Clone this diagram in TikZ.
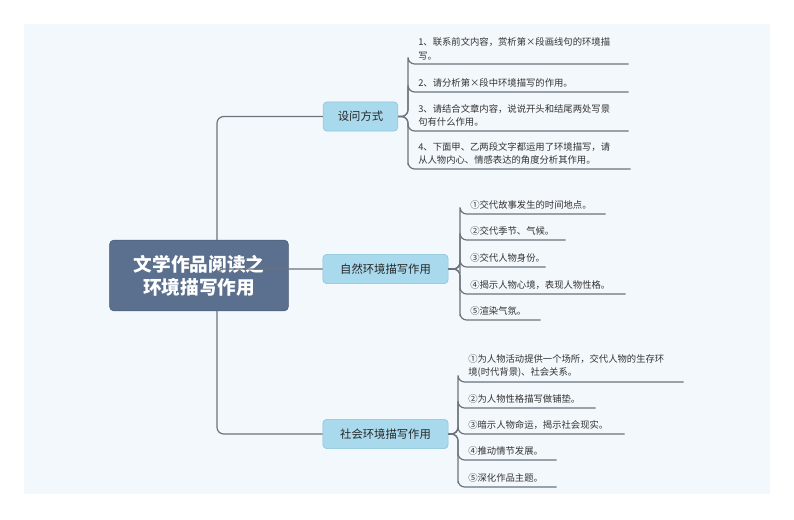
\documentclass[tikz,border=0pt]{standalone}
\usepackage{fontspec}
\setmainfont{Noto Sans CJK SC}
\definecolor{bgblue}{HTML}{F3F8FC}
\definecolor{rootfill}{HTML}{5B6F8F}
\definecolor{midfill}{HTML}{A9D9EC}
\definecolor{middraw}{HTML}{86C2DA}
\definecolor{linegray}{HTML}{6B737C}
\tikzset{
  rootbox/.style={draw=rootfill!80!black, fill=rootfill, rounded corners=3pt, text=white,
    font=\fontsize{14}{17}\selectfont\bfseries, align=center, minimum width=134pt, minimum height=53pt},
  midbox/.style={draw=middraw, fill=midfill, rounded corners=3pt, text=black!85,
    font=\fontsize{8.5}{10}\selectfont, minimum height=22pt},
  leaf/.style={anchor=south west, inner xsep=7.5pt, inner ysep=3pt, align=left,
    font=\fontsize{7}{10}\selectfont, text=black!80},
  branch/.style={draw=linegray, line width=0.9pt, rounded corners=5pt}
}
\begin{document}
\begin{tikzpicture}[x=0.75pt,y=0.75pt]
\useasboundingbox (0,0) rectangle (794,-519);
\fill[bgblue] (24,-24) rectangle (770,-494);

% Root and main topics
\node[rootbox] (root) at (199,-275.5) {文学作品阅读之\\环境描写作用};
\node[midbox, minimum width=56pt] (ask) at (360.5,-116.5) {设问方式};
\node[midbox, minimum width=94pt] (nature) at (385.5,-269) {自然环境描写作用};
\node[midbox, minimum width=94pt] (society) at (385.5,-434) {社会环境描写作用};

\draw[branch] (217,-240) |- (ask.west);
\draw[branch] (217,-275) |- (nature.west);
\draw[branch] (217,-311) |- (society.west);

% Questions
\node[leaf, text width=150pt] (q1) at (408,-64) {1、联系前文内容，赏析第×段画线句的环境描\\写。};
\node[leaf, text width=150pt] (q2) at (408,-92) {2、请分析第×段中环境描写的作用。};
\node[leaf, text width=150pt] (q3) at (408,-131) {3、请结合文章内容，说说开头和结尾两处写景\\句有什么作用。};
\node[leaf, text width=151.5pt] (q4) at (408,-169) {4、下面甲、乙两段文字都运用了环境描写，请\\从人物内心、情感表达的角度分析其作用。};
\foreach \q in {q1,q2,q3,q4}
  \draw[branch] (ask.east) -- (408,-116.5) |- (\q.south west) -- (\q.south east);

% Natural environment
\node[leaf, text width=93.75pt] (n1) at (460,-214) {①交代故事发生的时间地点。};
\node[leaf, text width=63.75pt] (n2) at (460,-240) {②交代季节、气候。};
\node[leaf, text width=48.75pt] (n3) at (460,-267) {③交代人物身份。};
\node[leaf, text width=108.75pt] (n4) at (460,-294) {④揭示人物心境，表现人物性格。};
\node[leaf, text width=45pt] (n5) at (460,-320) {⑤渲染气氛。};
\foreach \n in {n1,n2,n3,n4,n5}
  \draw[branch] (nature.east) -- (460,-269) |- (\n.south west) -- (\n.south east);

% Social environment
\node[leaf, text width=153.75pt] (s1) at (458,-382) {①为人物活动提供一个场所，交代人物的生存环\\境(时代背景)、社会关系。};
\node[leaf, text width=87.75pt] (s2) at (458,-408) {②为人物性格描写做铺垫。};
\node[leaf, text width=109.5pt] (s3) at (458,-434) {③暗示人物命运，揭示社会现实。};
\node[leaf, text width=58.5pt] (s4) at (458,-460) {④推动情节发展。};
\node[leaf, text width=58.5pt] (s5) at (458,-487) {⑤深化作品主题。};
\foreach \s in {s1,s2,s3,s4,s5}
  \draw[branch] (society.east) -- (458,-434) |- (\s.south west) -- (\s.south east);
\end{tikzpicture}
\end{document}
